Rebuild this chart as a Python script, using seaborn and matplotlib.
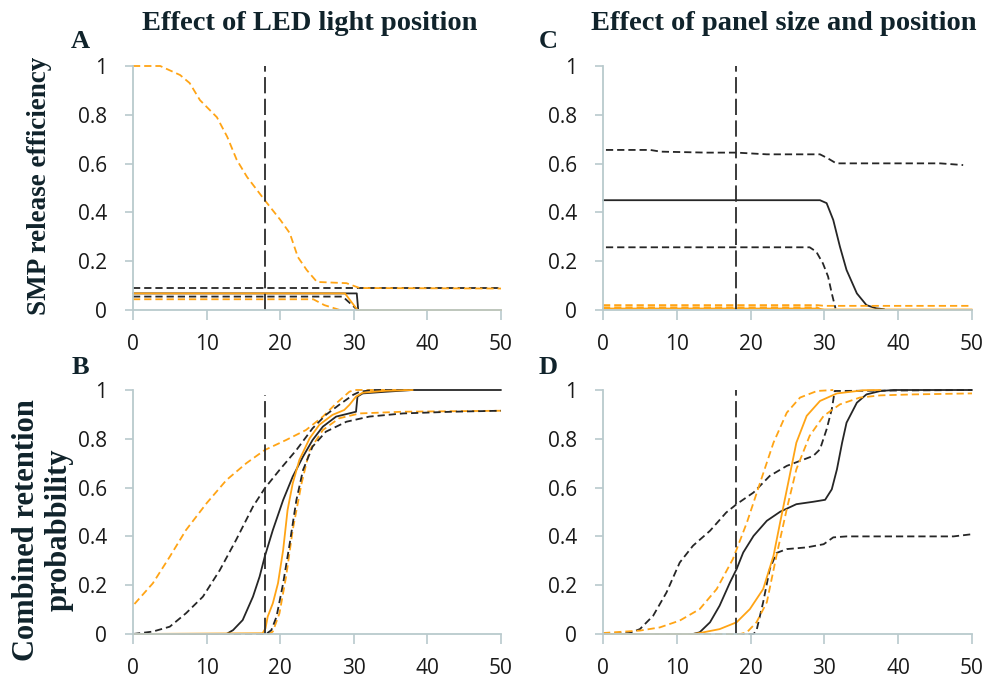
import matplotlib as mlp
mlp.use('Agg')
import matplotlib.pyplot as plt
import seaborn as sns

sns.set_style('white')
plt.rcParams['font.family'] = ['Open Sans', 'DejaVu Sans']

ORANGE = '#FFA415'
DARK = '#262626'
SPINE = '#B9CACD'

xticks = [0, 10, 20, 30, 40, 50]
yticks = [0, 0.2, 0.4, 0.6, 0.8, 1]
ytick_labels = ['0', '0.2', '0.4', '0.6', '0.8', '1']
x_marker = 18

#>> Panel A - SMP release efficiency, LED light position
a_or_dash1_x = [0, 3.7, 6.4, 7.7, 9.1, 11.4, 12.8, 14.1, 15.5, 17.9, 20, 21.3, 22.4, 23.6, 25, 29, 30.8, 50]
a_or_dash1_y = [1, 1, 0.963, 0.93, 0.86, 0.79, 0.71, 0.615, 0.545, 0.45, 0.37, 0.315, 0.217, 0.164, 0.115, 0.11, 0.09, 0.088]
a_bk_dash1_x = [0, 50]
a_bk_dash1_y = [0.089, 0.089]
a_bk_solid_x = [0, 30.4, 30.6]
a_bk_solid_y = [0.068, 0.068, 0]
a_or_solid_x = [0, 28.8, 30.5, 50]
a_or_solid_y = [0.068, 0.068, 0, 0]
a_bk_dash2_x = [0, 28.5, 30.5]
a_bk_dash2_y = [0.055, 0.055, 0]
a_or_dash2_x = [0, 24.5, 26, 28.1]
a_or_dash2_y = [0.044, 0.044, 0.02, 0]

#>> Panel B - combined retention, LED light position
b_or_dash1_x = [0.2, 2.7, 5, 7.2, 10, 12.7, 15.4, 17.9, 20.8, 23.5, 25.8, 27.6, 29.4, 30.1, 38]
b_or_dash1_y = [0.123, 0.208, 0.317, 0.426, 0.536, 0.631, 0.70, 0.754, 0.795, 0.836, 0.891, 0.945, 0.993, 1, 1]
b_bk_dash1_x = [0, 2.7, 5, 7.2, 9.5, 11.8, 14, 16.3, 17.9, 19.9, 22.2, 24.4, 26.2, 28, 29.9, 30.8, 32.6, 38]
b_bk_dash1_y = [0, 0.01, 0.03, 0.085, 0.153, 0.262, 0.385, 0.522, 0.597, 0.672, 0.754, 0.843, 0.898, 0.939, 0.98, 0.993, 1, 1]
b_bk_solid_x = [0, 12.7, 13.6, 14.9, 16.3, 17.2, 17.9, 19, 20.4, 21.7, 23.1, 24.4, 25.8, 27.6, 29.9, 30.3, 30.5, 31.2, 34.4, 38, 50]
b_bk_solid_y = [0, 0, 0.016, 0.057, 0.153, 0.235, 0.317, 0.426, 0.549, 0.645, 0.727, 0.795, 0.85, 0.891, 0.908, 0.911, 0.973, 0.986, 0.993, 1, 1]
b_or_solid_x = [0, 17.6, 18, 18.3, 19, 19.7, 20.4, 21, 21.7, 22.6, 24, 25.3, 27.1, 28.7, 29.4, 30.3, 31.2, 34.4, 38]
b_or_solid_y = [0, 0.003, 0.023, 0.071, 0.126, 0.208, 0.344, 0.508, 0.617, 0.713, 0.802, 0.857, 0.898, 0.918, 0.939, 0.973, 0.989, 0.997, 1]
b_bk_dash2_x = [0, 18.1, 18.8, 19.5, 20.4, 21.3, 22.2, 23.1, 24.4, 26.2, 29, 32.1, 36.7, 43.4, 50]
b_bk_dash2_y = [0, 0, 0.016, 0.071, 0.208, 0.372, 0.549, 0.672, 0.768, 0.829, 0.87, 0.891, 0.904, 0.911, 0.915]
b_or_dash2_x = [0, 18.5, 19, 19.9, 20.8, 21.7, 22.9, 24, 25.8, 28, 30.8, 36.7, 50]
b_or_dash2_y = [0, 0, 0.01, 0.085, 0.235, 0.426, 0.617, 0.754, 0.836, 0.884, 0.904, 0.911, 0.915]

#>> Panel C - SMP release efficiency, panel size and position
c_bk_dash1_x = [0.4, 6.4, 7.8, 14.1, 18.1, 22.2, 29.4, 30.5, 31.6, 45.7, 48.8]
c_bk_dash1_y = [0.656, 0.656, 0.649, 0.645, 0.645, 0.638, 0.638, 0.621, 0.601, 0.601, 0.594]
c_bk_solid_x = [0, 29.4, 30.3, 31.2, 32.1, 33, 34.4, 35.7, 37, 38.1]
c_bk_solid_y = [0.45, 0.45, 0.438, 0.369, 0.26, 0.164, 0.068, 0.02, 0.007, 0.003]
c_bk_dash2_x = [0.4, 28, 28.9, 29.8, 30.5, 31, 31.5]
c_bk_dash2_y = [0.257, 0.257, 0.239, 0.191, 0.137, 0.068, 0.007]
c_or_dash1_x = [0, 29, 30, 50]
c_or_dash1_y = [0.02, 0.02, 0.017, 0.017]
c_or_dash2_x = [0, 29, 29.5]
c_or_dash2_y = [0.011, 0.011, 0.003]
c_or_solid_x = [0, 29, 30, 50]
c_or_solid_y = [0.006, 0.006, 0.002, 0.002]

#>> Panel D - combined retention, panel size and position
d_bk_dash1_x = [0, 3.6, 5, 6.8, 8.6, 10.4, 12.2, 14.5, 16.7, 18.1, 20.4, 22.6, 24.9, 28.5, 29.4, 30.3, 31, 31.4, 50]
d_bk_dash1_y = [0, 0.004, 0.02, 0.075, 0.17, 0.293, 0.362, 0.423, 0.498, 0.532, 0.58, 0.648, 0.689, 0.73, 0.757, 0.839, 0.921, 0.996, 1]
d_bk_solid_x = [0, 12.2, 13.1, 14.5, 15.8, 17.2, 18.1, 19, 20.4, 22.2, 24, 26.2, 28.5, 30.1, 31, 31.7, 32.4, 33, 34.4, 35.7, 37.6, 39.4, 50]
d_bk_solid_y = [0, 0, 0.007, 0.048, 0.116, 0.211, 0.266, 0.334, 0.402, 0.464, 0.501, 0.532, 0.542, 0.55, 0.593, 0.675, 0.784, 0.866, 0.948, 0.982, 0.996, 1, 1]
d_or_solid_x = [0, 12.2, 13.1, 15.8, 18.1, 19.9, 21.7, 23.1, 24, 25.1, 26.2, 27.6, 29.4, 31.7, 35.3, 37.6]
d_or_solid_y = [0, 0, 0.004, 0.02, 0.048, 0.102, 0.184, 0.32, 0.457, 0.62, 0.784, 0.894, 0.955, 0.986, 0.999, 1]
d_or_dash1_x = [0, 5, 7.7, 10.4, 13.1, 15.4, 17.6, 19.5, 21.3, 23.1, 24.9, 26.7, 29, 31.2]
d_or_dash1_y = [0.004, 0.014, 0.027, 0.055, 0.102, 0.184, 0.307, 0.457, 0.621, 0.784, 0.907, 0.969, 0.996, 1]
d_or_dash2_x = [0, 18.6, 19.5, 20.8, 22.2, 23.5, 24.9, 26.2, 28, 29.9, 32.1, 34.8, 37.6, 42.1, 50]
d_or_dash2_y = [0, 0, 0.007, 0.048, 0.13, 0.32, 0.512, 0.675, 0.812, 0.894, 0.941, 0.969, 0.978, 0.982, 0.986]
d_bk_dash2_x = [0, 20.4, 20.8, 21.7, 22.6, 23.5, 24.9, 27.6, 29.9, 31.2, 33, 47.5, 50]
d_bk_dash2_y = [0, 0, 0.014, 0.13, 0.266, 0.332, 0.348, 0.355, 0.368, 0.396, 0.4, 0.4, 0.409]

DASH = (0, (4, 2.2))
SOLID = '-'

panels = {
    'A': [(a_bk_dash1_x, a_bk_dash1_y, DARK, DASH), (a_bk_solid_x, a_bk_solid_y, DARK, SOLID),
          (a_bk_dash2_x, a_bk_dash2_y, DARK, DASH), (a_or_dash1_x, a_or_dash1_y, ORANGE, DASH),
          (a_or_solid_x, a_or_solid_y, ORANGE, SOLID), (a_or_dash2_x, a_or_dash2_y, ORANGE, DASH)],
    'B': [(b_or_dash1_x, b_or_dash1_y, ORANGE, DASH), (b_or_dash2_x, b_or_dash2_y, ORANGE, DASH),
          (b_bk_dash1_x, b_bk_dash1_y, DARK, DASH), (b_bk_dash2_x, b_bk_dash2_y, DARK, DASH),
          (b_bk_solid_x, b_bk_solid_y, DARK, SOLID), (b_or_solid_x, b_or_solid_y, ORANGE, SOLID)],
    'C': [(c_bk_dash1_x, c_bk_dash1_y, DARK, DASH), (c_bk_solid_x, c_bk_solid_y, DARK, SOLID),
          (c_bk_dash2_x, c_bk_dash2_y, DARK, DASH), (c_or_solid_x, c_or_solid_y, ORANGE, SOLID),
          (c_or_dash2_x, c_or_dash2_y, ORANGE, DASH), (c_or_dash1_x, c_or_dash1_y, ORANGE, DASH)],
    'D': [(d_bk_dash1_x, d_bk_dash1_y, DARK, DASH), (d_bk_dash2_x, d_bk_dash2_y, DARK, DASH),
          (d_bk_solid_x, d_bk_solid_y, DARK, SOLID), (d_or_dash1_x, d_or_dash1_y, ORANGE, DASH),
          (d_or_dash2_x, d_or_dash2_y, ORANGE, DASH), (d_or_solid_x, d_or_solid_y, ORANGE, SOLID)],
}

W, H = 987, 680
fig = plt.figure(figsize=(W / 100, H / 100), dpi=100)

# pixel boxes: left, top, right, bottom
boxes = {'A': (133, 66, 501, 310), 'B': (133, 390, 501, 634),
         'C': (603, 66, 972, 310), 'D': (603, 390, 972, 634)}
vline_top = {'A': 1, 'B': 0.98, 'C': 1, 'D': 1}

for key, (l, t, r, b) in boxes.items():
    ax = fig.add_axes([l / W, 1 - b / H, (r - l) / W, (b - t) / H])
    for x, y, col, ls in panels[key]:
        sns.lineplot(x=x, y=y, ax=ax, color=col, linestyle=ls, linewidth=1.3,
                     estimator=None, sort=False, clip_on=False)
    ax.plot([x_marker, x_marker], [0, vline_top[key]], color='#2b2b2b',
            linestyle=(0, (9, 3)), linewidth=1.3)
    ax.set_xlim(0, 50)
    ax.set_ylim(0, 1)
    ax.set_xticks(xticks)
    ax.set_xticklabels([str(v) for v in xticks])
    ax.set_yticks(yticks)
    ax.set_yticklabels(ytick_labels)
    ax.set_xlabel('')
    ax.set_ylabel('')
    sns.despine(ax=ax)
    for s in ['left', 'bottom']:
        ax.spines[s].set_color(SPINE)
        ax.spines[s].set_linewidth(1.3)
    ax.tick_params(axis='y', direction='out', length=6, width=1.2, color=SPINE,
                   pad=12.5, labelsize=15, labelcolor='#1a1a1a', left=True)
    ax.tick_params(axis='x', direction='out', length=7, width=1.2, color=SPINE,
                   pad=10, labelsize=15, labelcolor='#1a1a1a', bottom=True)

serif = ['Liberation Serif', 'DejaVu Serif']
INK = '#10232b'
fig.text(310 / W, 1 - 23 / H, 'Effect of LED light position', ha='center', va='center',
         fontsize=20.5, fontweight='bold', family=serif, color=INK)
fig.text(784 / W, 1 - 23 / H, 'Effect of panel size and position', ha='center', va='center',
         fontsize=20.5, fontweight='bold', family=serif, color=INK)
for letter, (px, py) in {'A': (80, 42), 'C': (548, 42), 'B': (80, 368), 'D': (548, 368)}.items():
    fig.text(px / W, 1 - py / H, letter, ha='center', va='center', fontsize=19,
             fontweight='bold', family=serif, color=INK)
fig.text(40 / W, 1 - 186 / H, 'SMP release efficiency', rotation=90, ha='center', va='center',
         fontsize=19.5, fontweight='bold', family=serif, color=INK)
fig.text(43 / W, 1 - 530 / H, 'Combined retention\nprobabbility', rotation=90, ha='center',
         va='center', fontsize=22, fontweight='bold', family=serif, color=INK,
         linespacing=1.15)

fig.savefig('out.png', dpi=100)
